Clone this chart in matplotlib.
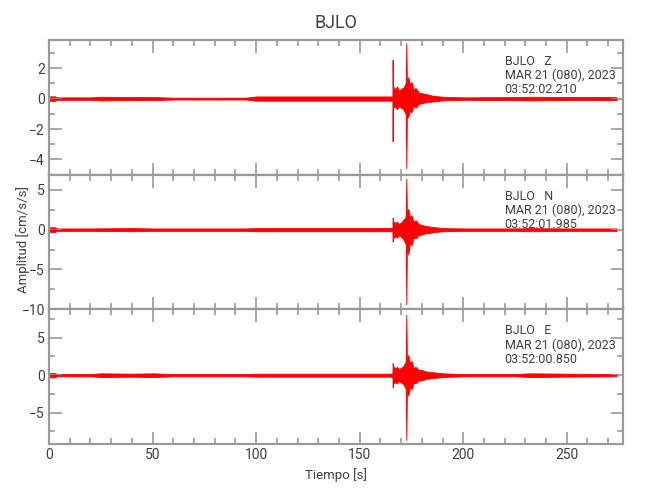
import matplotlib
matplotlib.use("Agg")
from matplotlib import pyplot as plt
from matplotlib.ticker import MultipleLocator

plt.rcParams['font.family'] = ['Roboto', 'DejaVu Sans']

# envelope of each trace (upper / lower limits)
t_z = [0.5, 3, 3.5, 20, 25, 40, 50, 60, 95, 100, 160, 165.8, 165.9, 166.0, 166.2, 167, 168, 169, 170, 171,
       172.2, 172.5, 172.8, 173.5, 174.3, 175, 176, 177, 178.5, 180, 182, 185, 190, 200, 225, 232, 250, 274]
up_z = [0.15, 0.15, 0.08, 0.08, 0.12, 0.1, 0.1, 0.06, 0.06, 0.14, 0.14, 0.14, 2.55, 0.9, 0.8, 0.6, 0.8, 0.5, 0.65, 0.7,
        1.0, 3.65, 1.2, 1.4, 0.9, 1.1, 0.6, 0.7, 0.4, 0.35, 0.3, 0.2, 0.12, 0.08, 0.1, 0.12, 0.1, 0.1]
lo_z = [-0.15, -0.15, -0.08, -0.08, -0.12, -0.1, -0.1, -0.06, -0.06, -0.14, -0.14, -0.14, -2.8, -0.7, -0.6, -0.5, -0.7, -0.5, -0.6, -0.7,
        -1.0, -4.6, -1.2, -1.2, -0.8, -0.9, -0.5, -0.6, -0.35, -0.3, -0.25, -0.2, -0.12, -0.08, -0.1, -0.12, -0.1, -0.1]

t_n = [0.5, 3, 3.5, 20, 40, 50, 60, 95, 100, 160, 165.8, 165.9, 166.2, 167, 168, 169, 170, 171,
       172.2, 172.5, 172.8, 173.5, 174.3, 175, 176, 177, 178.5, 180, 182, 185, 190, 200, 225, 232, 250, 274]
up_n = [0.3, 0.3, 0.15, 0.15, 0.2, 0.15, 0.15, 0.15, 0.2, 0.2, 0.2, 1.5, 1.1, 0.8, 1.0, 0.7, 0.9, 1.2,
        1.6, 6.4, 2.0, 2.6, 1.5, 1.8, 1.0, 1.2, 0.7, 0.6, 0.45, 0.35, 0.2, 0.15, 0.15, 0.2, 0.15, 0.15]
lo_n = [-0.3, -0.3, -0.15, -0.15, -0.2, -0.15, -0.15, -0.15, -0.2, -0.2, -0.2, -1.5, -1.1, -0.8, -1.0, -0.7, -0.9, -1.2,
        -1.8, -9.4, -2.4, -3.1, -1.6, -2.0, -1.0, -1.1, -0.7, -0.6, -0.45, -0.35, -0.2, -0.15, -0.15, -0.2, -0.15, -0.15]

t_e = [0.5, 3, 3.5, 20, 25, 40, 50, 60, 95, 100, 160, 165.8, 165.9, 166.2, 167, 168, 169, 170, 171,
       172.2, 172.5, 172.8, 173.5, 174.3, 175, 176, 177, 178.5, 180, 182, 185, 190, 200, 225, 232, 250, 274]
up_e = [0.3, 0.3, 0.15, 0.15, 0.25, 0.2, 0.25, 0.15, 0.15, 0.2, 0.2, 0.2, 1.6, 1.2, 0.9, 1.1, 0.8, 1.0, 1.2,
        1.8, 8.1, 2.2, 2.7, 1.6, 1.9, 1.0, 1.1, 0.7, 0.7, 0.5, 0.4, 0.25, 0.15, 0.15, 0.25, 0.2, 0.15]
lo_e = [-0.3, -0.3, -0.15, -0.15, -0.25, -0.2, -0.25, -0.15, -0.15, -0.2, -0.2, -0.2, -1.6, -1.2, -0.9, -1.1, -0.8, -1.0, -1.2,
        -1.8, -8.7, -2.4, -2.7, -1.6, -1.9, -1.0, -1.1, -0.7, -0.7, -0.5, -0.4, -0.25, -0.15, -0.15, -0.25, -0.2, -0.15]

comps = ["Z", "N", "E"]
times = ["03:52:02.210", "03:52:01.985", "03:52:00.850"]
ylims = [(-5, 3.85), (-10, 6.9), (-9.2, 8.8)]
ymajor = [2, 5, 5]
yminor = [1, 2.5, 2.5]

grey = "#999999"
txt = "#404040"

fig, axs = plt.subplots(3, 1, figsize=(6.5, 5), dpi=100, sharex=True)
fig.subplots_adjust(left=0.0754, right=0.958, top=0.92, bottom=0.112, hspace=0)

traces = [(t_z, up_z, lo_z), (t_n, up_n, lo_n), (t_e, up_e, lo_e)]
for i, ax in enumerate(axs):
    t, up, lo = traces[i]
    ax.fill_between(t, lo, up, color="red", lw=0.6, edgecolor="red")
    ax.plot(t, [0] * len(t), color="red", lw=0.8)
    ax.set_xlim(0, 277)
    ax.set_ylim(*ylims[i])
    ax.xaxis.set_major_locator(MultipleLocator(50))
    ax.xaxis.set_minor_locator(MultipleLocator(10))
    ax.yaxis.set_major_locator(MultipleLocator(ymajor[i]))
    ax.yaxis.set_minor_locator(MultipleLocator(yminor[i]))
    ax.tick_params(which="both", direction="in", top=True, right=True, colors=grey,
                   labelcolor=txt, labelsize=10, width=1.2, pad=3)
    ax.tick_params(which="major", length=9)
    ax.tick_params(which="minor", length=4)
    for s in ax.spines.values():
        s.set_color(grey)
        s.set_linewidth(1.6)
    ax.text(0.794, 0.84, "BJLO   " + comps[i], transform=ax.transAxes, fontsize=9, color=txt, va="center")
    ax.text(0.794, 0.735, "MAR 21 (080), 2023", transform=ax.transAxes, fontsize=9, color=txt, va="center")
    ax.text(0.794, 0.63, times[i], transform=ax.transAxes, fontsize=9, color=txt, va="center")

axs[0].set_title("BJLO", fontsize=13, color=txt, pad=9)
axs[1].set_ylabel("Amplitud [cm/s/s]", fontsize=9.5, color=txt)
axs[1].yaxis.set_label_coords(-0.033, 0.515)
axs[2].set_xlabel("Tiempo [s]", fontsize=9.5, color=txt, labelpad=4)

plt.savefig("out.png", dpi=100)
